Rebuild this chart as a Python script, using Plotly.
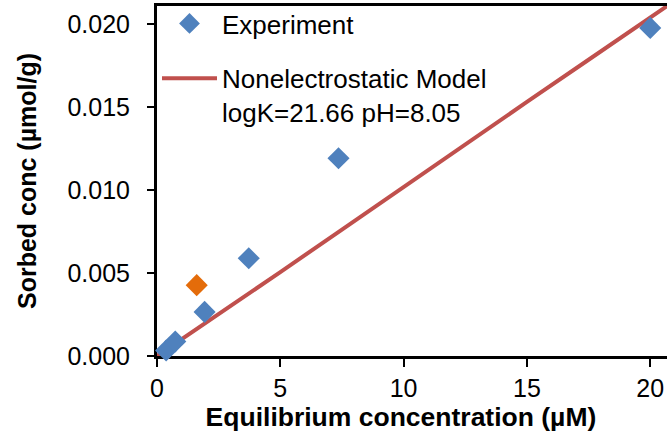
import plotly.graph_objects as go

# Experimental data
exp_x = [0.37, 0.74, 1.93, 3.72, 7.36, 20.0]
exp_y = [0.00033, 0.00087, 0.00266, 0.00589, 0.01192, 0.01978]
# Highlighted (orange) experimental point
out_x = [1.61]
out_y = [0.00427]
# Nonelectrostatic model curve
model_x = [0, 2.5, 5, 7.5, 10, 12.5, 15, 17.5, 20, 21]
model_y = [0, 0.00250, 0.00506, 0.00762, 0.01020, 0.01276, 0.01532, 0.01786, 0.02040, 0.02142]

x_ticks = [0, 5, 10, 15, 20]
y_ticks = [0.0, 0.005, 0.010, 0.015, 0.020]
y_ticklabels = ["0.000", "0.005", "0.010", "0.015", "0.020"]

FONT = "Liberation Sans, Arial, sans-serif"
BLUE = "#4F81BD"
RED = "#C0504D"
ORANGE = "#E46C0A"

fig = go.Figure()
fig.add_trace(go.Scatter(
    x=model_x, y=model_y, mode="lines", name="Nonelectrostatic Model<br>logK=21.66 pH=8.05",
    line=dict(color=RED, width=4), legendgroup="b", legendrank=2))
fig.add_trace(go.Scatter(
    x=exp_x, y=exp_y, mode="markers", name="Experiment",
    marker=dict(symbol="diamond", size=17, color=BLUE), cliponaxis=False,
    legendgroup="a", legendrank=1))
fig.add_trace(go.Scatter(
    x=out_x, y=out_y, mode="markers", showlegend=False,
    marker=dict(symbol="diamond", size=17, color=ORANGE), cliponaxis=False))

fig.update_layout(
    width=667, height=440,
    margin=dict(l=157, r=0, t=5, b=84),
    paper_bgcolor="white", plot_bgcolor="white",
    font=dict(family=FONT, size=25, color="black"),
    showlegend=True,
    legend=dict(x=0.0, y=1.016, xanchor="left", yanchor="top",
                bgcolor="rgba(0,0,0,0)", font=dict(size=26, family=FONT),
                traceorder="grouped", tracegroupgap=18, valign="top",
                itemwidth=55),
    xaxis=dict(range=[0, 20.68], tickvals=x_ticks, showgrid=False, zeroline=False,
               showline=True, linecolor="black", linewidth=3, mirror=True,
               ticks="outside", ticklen=8, tickwidth=2, tickcolor="black",
               tickfont=dict(size=25), layer="below traces",
               title=dict(text="<b>Equilibrium concentration (µM)&nbsp;&nbsp;&nbsp;</b>",
                          font=dict(size=26.5), standoff=0)),
    yaxis=dict(range=[0, 0.0211], tickvals=y_ticks, ticktext=y_ticklabels,
               showgrid=False, zeroline=False,
               showline=True, linecolor="black", linewidth=3,
               ticks="outside", ticklen=7, tickwidth=2, tickcolor="black",
               tickfont=dict(size=25), ticklabelstandoff=12, layer="below traces",
               title=dict(text="<b>Sorbed conc (µmol/g)</b>",
                          font=dict(size=25), standoff=24)),
)

fig.write_html("out.html")
